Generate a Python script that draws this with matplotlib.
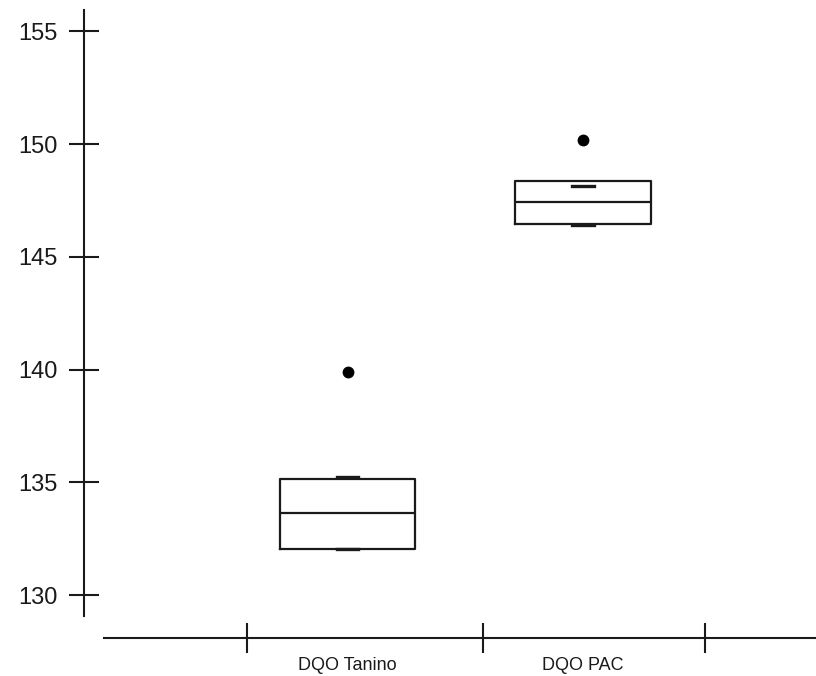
import matplotlib
matplotlib.use("Agg")
import matplotlib.pyplot as plt

# data
categories = ["DQO Tanino", "DQO PAC"]
q1 = [132.04, 146.47]
medians = [133.64, 147.45]
q3 = [135.15, 148.38]
whis_lo = [132.06, 146.43]
whis_hi = [135.24, 148.16]
outliers = [[139.90], [150.16]]
yticks = [130, 135, 140, 145, 150, 155]
group_ticks = [0.573, 1.575, 2.518]

plt.rcParams['font.family'] = ['Liberation Sans', 'DejaVu Sans']
ink = "#1a1a1a"

fig = plt.figure(figsize=(8.16, 6.76), dpi=100)
ax = fig.add_axes([0, 0, 1, 1])

stats = []
for i in range(len(categories)):
    stats.append(dict(label=categories[i], q1=q1[i], med=medians[i], q3=q3[i],
                      whislo=whis_lo[i], whishi=whis_hi[i], fliers=outliers[i]))

# whiskers are too short to show in the reference, only the caps are drawn
ax.bxp(stats, positions=[1, 2], widths=0.575, capwidths=0.093,
       boxprops=dict(color=ink, lw=1.6),
       medianprops=dict(color=ink, lw=1.6),
       whiskerprops=dict(color=ink, lw=0),
       capprops=dict(color=ink, lw=2.4),
       flierprops=dict(marker='o', markerfacecolor='black',
                       markeredgecolor='black', markersize=7.5))

ax.set_xlim(-0.4756, 2.9894)
ax.set_ylim(126.41, 156.39)

for s in ["top", "right"]:
    ax.spines[s].set_visible(False)
ax.spines["left"].set_position(("data", -0.1189))
ax.spines["left"].set_bounds(129.07, 155.94)
ax.spines["bottom"].set_position(("data", 128.08))
ax.spines["bottom"].set_bounds(-0.034, 2.99)
for s in ["left", "bottom"]:
    ax.spines[s].set_color(ink)
    ax.spines[s].set_linewidth(1.5)

ax.set_yticks(yticks)
ax.tick_params(axis="y", direction="inout", length=21, width=1.5, color=ink,
               pad=8.5, labelsize=17, labelcolor=ink)

ax.set_xticks([1, 2])
ax.set_xticklabels(categories)
ax.set_xticks(group_ticks, minor=True)
ax.tick_params(axis="x", which="major", length=0, pad=13.5, labelsize=13,
               labelcolor=ink)
ax.tick_params(axis="x", which="minor", direction="inout", length=21,
               width=1.5, color=ink)

fig.savefig("out.png", dpi=100)
